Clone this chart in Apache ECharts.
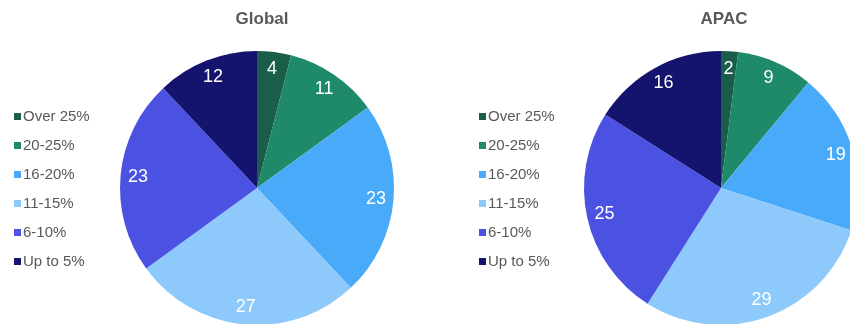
<!DOCTYPE html>
<html>
<head>
<meta charset="utf-8">
<script src="https://cdn.jsdelivr.net/npm/echarts@6/dist/echarts.min.js"></script>
<style>
  html, body { margin: 0; padding: 0; background: #fff; }
  #chart { width: 850px; height: 324px; }
</style>
</head>
<body>
<div id="chart"></div>
<script>
// Salary-increase bands and the share of respondents in each (percent)
const bands = ['Over 25%', '20-25%', '16-20%', '11-15%', '6-10%', 'Up to 5%'];
const globalShares = [4, 11, 23, 27, 23, 12];
const apacShares = [2, 9, 19, 29, 25, 16];
const panelTitles = ['Global', 'APAC'];
const bandColors = ['#1a5e4a', '#1e8a6a', '#4aaafa', '#8dc9fb', '#4b52e2', '#14146e'];

const font = '"Liberation Sans", Arial, Helvetica, sans-serif';
const R = 137;

function toData(values) {
  return bands.map((name, i) => ({ name, value: values[i] }));
}

// One panel = a filled pie plus a transparent ring that carries the value labels near the rim
function panel(values, cx, cy) {
  return [
    {
      type: 'pie',
      center: [cx, cy],
      radius: [0, R],
      startAngle: 90,
      clockwise: true,
      silent: true,
      label: { show: false },
      labelLine: { show: false },
      itemStyle: { borderWidth: 0 },
      data: toData(values)
    },
    {
      type: 'pie',
      center: [cx, cy],
      radius: [R * 0.7, R],
      startAngle: 90,
      clockwise: true,
      silent: true,
      itemStyle: { color: 'rgba(0,0,0,0)', borderWidth: 0 },
      label: {
        show: true,
        position: 'inside',
        formatter: '{c}',
        color: '#ffffff',
        fontSize: 18,
        fontFamily: font
      },
      labelLine: { show: false },
      data: toData(values)
    }
  ];
}

function legend(left) {
  return {
    orient: 'vertical',
    left: left,
    top: 104,
    icon: 'rect',
    itemWidth: 7,
    itemHeight: 7,
    itemGap: 14,
    selectedMode: false,
    textStyle: { color: '#595959', fontSize: 15, fontFamily: font, padding: [0, 0, 0, -3] },
    data: bands
  };
}

const chart = echarts.init(document.getElementById('chart'), null, { renderer: 'canvas' });
chart.setOption({
  animation: false,
  color: bandColors,
  title: [
    { text: panelTitles[0], left: 257, top: 6, textAlign: 'center',
      textStyle: { color: '#595959', fontSize: 17, fontWeight: 'bold', fontFamily: font } },
    { text: panelTitles[1], left: 719, top: 6, textAlign: 'center',
      textStyle: { color: '#595959', fontSize: 17, fontWeight: 'bold', fontFamily: font } }
  ],
  legend: [legend(9), legend(474)],
  series: [...panel(globalShares, 257, 188), ...panel(apacShares, 721, 188)]
});
</script>
</body>
</html>
